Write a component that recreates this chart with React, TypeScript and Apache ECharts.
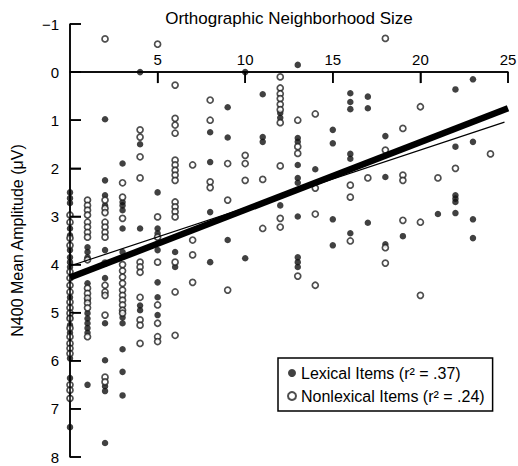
import { useEffect, useRef } from 'react';
import * as echarts from 'echarts';

// N400 amplitude per item, grouped by orthographic neighborhood size (index = N size)
const lexicalByCount: number[][] = [
  [2.5, 2.62, 2.72, 3.25, 3.39, 3.7, 3.85, 3.95, 4.05, 4.68, 5.1, 5.26, 5.42, 5.95, 6.36, 7.38],
  [3.64, 3.74, 3.85, 4.39, 4.74, 5.01, 5.12, 5.22, 5.32, 5.42, 6.5],
  [0.98, 2.25, 2.56, 2.77, 3.7, 4.28, 5.22, 5.99, 6.53, 6.63, 7.71],
  [1.9, 2.7, 2.77, 2.87, 3.25, 3.74, 5.1, 5.22, 5.76, 6.23, 6.72],
  [0.0, 1.5, 3.25, 4.85, 4.95],
  [2.5, 3.25, 3.35, 3.7, 4.37, 4.68, 5.05],
  [3.74, 4.05],
  [],
  [1.25, 1.87, 2.91, 3.95],
  [0.73, 1.36, 3.49],
  [0.0, 3.87],
  [0.46, 1.35, 1.45],
  [0.85, 0.95, 2.77],
  [-0.15, 1.37, 1.45, 1.93, 2.2, 2.3, 3.0, 3.85, 3.95, 4.05],
  [2.02],
  [1.2, 1.48, 3.06, 3.6],
  [0.44, 0.62, 0.77, 1.7, 1.8, 3.35],
  [0.51, 0.75, 3.13],
  [1.33, 2.18, 3.58],
  [3.41],
  [],
  [2.95],
  [0.36, 1.55, 2.56, 2.63, 2.7, 2.93],
  [0.15, 1.45, 3.06, 3.45],
  [],
];

const nonlexicalByCount: number[][] = [
  [2.97, 3.12, 3.45, 3.6, 4.15, 4.28, 4.43, 4.57, 4.78, 4.9, 5.01, 5.12, 5.32, 5.5, 5.64, 5.74, 5.85, 6.5, 6.61, 6.78],
  [2.66, 2.77, 2.87, 2.97, 3.12, 3.22, 3.33, 3.43, 3.9, 4.49, 4.6, 4.7, 4.8, 4.9, 5.5],
  [-0.69, 2.66, 2.83, 2.92, 3.12, 3.22, 3.33, 3.43, 3.97, 4.43, 4.57, 4.64, 5.05, 6.34, 6.44],
  [2.3, 2.6, 3.04, 4.0, 4.13, 4.26, 4.39, 4.53, 4.64, 4.74, 4.84, 4.95, 5.01],
  [1.2, 1.35, 1.76, 2.2, 3.95, 4.05, 4.16, 4.68, 5.15, 5.26, 5.64],
  [-0.58, 3.01, 3.43, 3.95, 4.84, 5.22, 5.5, 5.6],
  [0.27, 0.96, 1.1, 1.27, 1.83, 1.93, 2.04, 2.14, 2.25, 2.7, 2.8, 2.9, 3.01, 3.95, 4.57, 5.47],
  [1.93, 3.49, 3.8, 4.37],
  [0.58, 1.0, 2.28, 2.4],
  [1.9, 2.66, 4.53],
  [1.73, 1.9, 2.25],
  [2.23, 3.25],
  [0.1, 0.33, 0.45, 0.55, 0.67, 0.78, 1.05, 1.95, 3.04, 3.22],
  [1.0, 1.55, 1.69, 4.24],
  [0.87, 2.41, 2.95, 4.43],
  [],
  [2.35, 2.6, 3.51],
  [2.2],
  [-0.7, 1.62, 3.65, 3.97],
  [1.17, 2.14, 2.25, 3.08],
  [0.72, 3.12, 4.64],
  [2.2],
  [2.0],
  [],
  [1.7],
];

// Least-squares fit lines (endpoints)
const lexicalFit: number[][] = [[0, 4.27], [25, 0.75]];
const nonlexicalFit: number[][] = [[0, 4.03], [24.8, 1.04]];

// Tick positions
const xTickValues = [5, 10, 15, 20, 25];
const yTickValues = [-1, 0, 1, 2, 3, 4, 5, 6, 7, 8];

const seriesNames = ['Lexical Items (r² = .37)', 'Nonlexical Items (r² = .24)'];
const xTitle = 'Orthographic Neighborhood Size';
const yTitle = 'N400 Mean Amplitude (μV)';

const FONT = '"Liberation Sans", Arial, Helvetica, sans-serif';

// plot frame in pixels; the N-size axis sits on the 0 µV level
const LEFT = 70;
const RIGHT = 10;
const TOP = 24;
const BOTTOM = 9;
const X_MIN = 0;
const X_MAX = 25;
const Y_MIN = -1;
const Y_MAX = 8;
const TICK_LEN = 11;

function toPoints(cols: number[][]): number[][] {
  const pts: number[][] = [];
  cols.forEach((ys, x) => ys.forEach((y) => pts.push([x, y])));
  return pts;
}

export default function App() {
  const ref = useRef<HTMLDivElement>(null);

  useEffect(() => {
    document.body.style.margin = '0';
    if (!ref.current) return;
    const chart = echarts.init(ref.current, undefined, { renderer: 'svg' });
    const plotH = 466 - TOP - BOTTOM;
    const zeroTop = TOP + (plotH * (0 - Y_MIN)) / (Y_MAX - Y_MIN);
    const lineStyle = { color: '#000', width: 1.5 };

    const titleText = {
      type: 'text',
      x: 289,
      y: 18,
      style: {
        text: xTitle,
        fill: '#000',
        fontSize: 17,
        fontFamily: FONT,
        align: 'center',
        verticalAlign: 'middle',
      },
    };

    chart.setOption({
      animation: false,
      textStyle: { fontFamily: FONT },
      grid: [
        { left: LEFT, right: RIGHT, top: TOP, bottom: BOTTOM, containLabel: false, outerBoundsMode: 'none' },
        { left: LEFT, right: RIGHT, top: zeroTop, height: 1, containLabel: false, outerBoundsMode: 'none' },
      ],
      xAxis: [
        {
          type: 'value',
          gridIndex: 0,
          min: X_MIN,
          max: X_MAX,
          interval: 5,
          axisLine: { show: false },
          axisTick: { show: false },
          axisLabel: { show: false },
          splitLine: { show: false },
        },
        {
          // the N-size axis, drawn on the 0 µV level
          type: 'value',
          gridIndex: 1,
          min: X_MIN,
          max: X_MAX,
          interval: 5,
          position: 'top',
          axisLine: { show: true, onZero: false, lineStyle },
          axisTick: { show: true, inside: true, length: TICK_LEN, lineStyle },
          axisLabel: {
            color: '#000',
            fontSize: 15,
            fontFamily: FONT,
            margin: 5,
            showMinLabel: false,
          },
          splitLine: { show: false },
        },
      ],
      yAxis: [
        {
          type: 'value',
          gridIndex: 0,
          inverse: true,
          min: Y_MIN,
          max: Y_MAX,
          interval: 1,
          position: 'left',
          name: yTitle,
          nameLocation: 'middle',
          nameRotate: 90,
          nameGap: 45,
          nameTextStyle: { color: '#000', fontSize: 16, fontFamily: FONT },
          axisLine: { show: true, onZero: false, lineStyle },
          axisTick: { show: true, inside: true, length: TICK_LEN, lineStyle },
          axisLabel: {
            color: '#000',
            fontSize: 15,
            fontFamily: FONT,
            margin: 11,
            formatter: (v: number) => (v < 0 ? '\u2212' + Math.abs(v) : String(v)),
          },
          splitLine: { show: false },
        },
        {
          type: 'value',
          gridIndex: 1,
          min: 0,
          max: 1,
          axisLine: { show: false },
          axisTick: { show: false },
          axisLabel: { show: false },
          splitLine: { show: false },
        },
      ],
      legend: {
        data: seriesNames,
        orient: 'vertical',
        left: 278,
        top: 358,
        padding: [7, 8, 7, 9],
        itemGap: 7,
        itemWidth: 8,
        itemHeight: 8,
        icon: 'circle',
        borderColor: '#000',
        borderWidth: 1.5,
        backgroundColor: '#fff',
        textStyle: { color: '#000', fontSize: 16, fontFamily: FONT },
      },
      graphic: [titleText],
      series: [
        {
          name: seriesNames[0],
          type: 'scatter',
          xAxisIndex: 0,
          yAxisIndex: 0,
          data: toPoints(lexicalByCount),
          symbol: 'circle',
          symbolSize: 6.5,
          itemStyle: { color: '#111' },
          z: 2,
        },
        {
          name: seriesNames[1],
          type: 'scatter',
          xAxisIndex: 0,
          yAxisIndex: 0,
          data: toPoints(nonlexicalByCount),
          symbol: 'circle',
          symbolSize: 6,
          itemStyle: { color: '#fff', borderColor: '#222', borderWidth: 1.7 },
          z: 2,
        },
        {
          name: 'lexical fit',
          type: 'line',
          xAxisIndex: 0,
          yAxisIndex: 0,
          data: lexicalFit,
          showSymbol: false,
          silent: true,
          lineStyle: { color: '#000', width: 6.5 },
          z: 3,
        },
        {
          name: 'nonlexical fit',
          type: 'line',
          xAxisIndex: 0,
          yAxisIndex: 0,
          data: nonlexicalFit,
          showSymbol: false,
          silent: true,
          lineStyle: { color: '#000', width: 1.2 },
          z: 4,
        },
      ],
    });

    // Reinforce the axis frame and inward ticks, placed through the chart's own scales
    try {
      const toPx = (x: number, y: number): number[] =>
        chart.convertToPixel({ xAxisIndex: 0, yAxisIndex: 0 }, [x, y]) as number[];
      const stroke = { stroke: '#000', lineWidth: 1.5 };
      const [axisX, yTopPx] = toPx(X_MIN, Y_MIN);
      const [, yBottomPx] = toPx(X_MIN, Y_MAX);
      const [, zeroPx] = toPx(X_MIN, 0);
      const [xEndPx] = toPx(X_MAX, 0);
      const ok = [axisX, yTopPx, yBottomPx, zeroPx, xEndPx].every((n) => Number.isFinite(n));
      if (ok) {
        const axisMarks: any[] = [
          { type: 'line', z: 10, silent: true, shape: { x1: axisX, y1: yTopPx, x2: axisX, y2: yBottomPx }, style: stroke },
          { type: 'line', z: 10, silent: true, shape: { x1: axisX, y1: zeroPx, x2: xEndPx, y2: zeroPx }, style: stroke },
        ];
        yTickValues.forEach((v) => {
          const [, py] = toPx(X_MIN, v);
          axisMarks.push({ type: 'line', z: 10, silent: true, shape: { x1: axisX, y1: py, x2: axisX + TICK_LEN, y2: py }, style: stroke });
        });
        xTickValues.forEach((v) => {
          const [px] = toPx(v, 0);
          axisMarks.push({ type: 'line', z: 10, silent: true, shape: { x1: px, y1: zeroPx, x2: px, y2: zeroPx + TICK_LEN }, style: stroke });
        });
        chart.setOption({ graphic: [titleText, ...axisMarks] });
      }
    } catch (e) {
      // axes above remain as drawn by the axis components
    }

    return () => chart.dispose();
  }, []);

  return <div ref={ref} style={{ width: 518, height: 466, display: 'block' }} />;
}
